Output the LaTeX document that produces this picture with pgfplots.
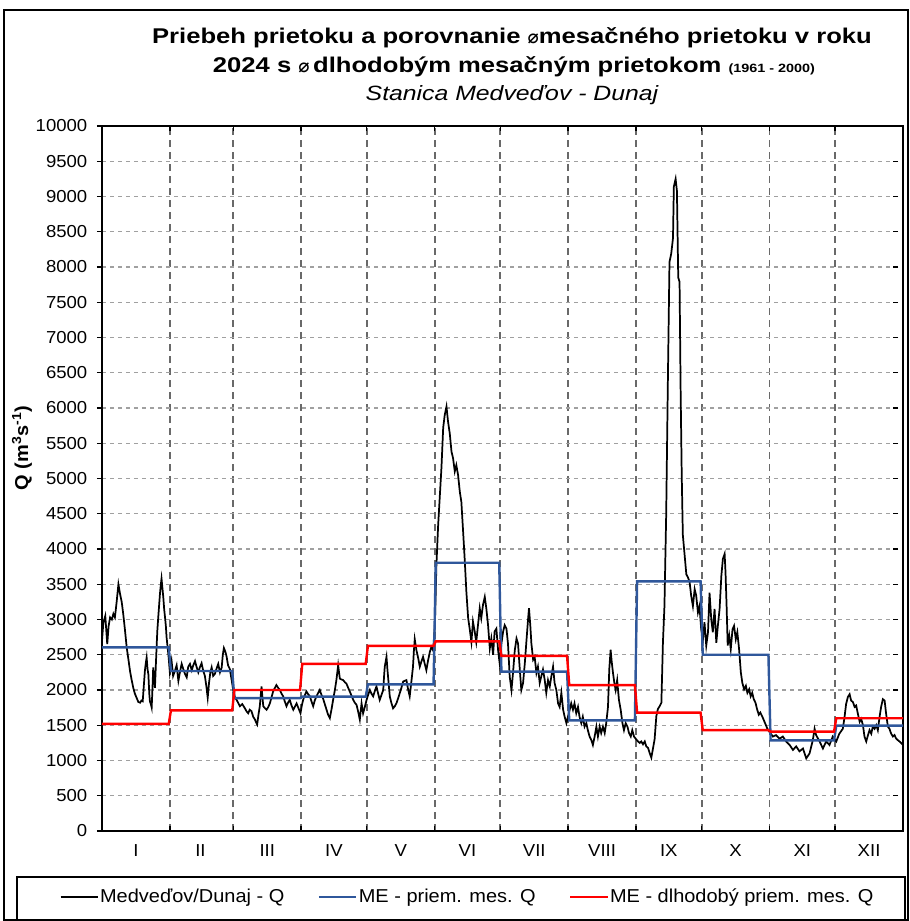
\documentclass[border=0pt]{standalone}
\usepackage{fontspec}
\setmainfont{Liberation Sans}[FakeStretch=1.07]
\newfontfamily\titlefont{Liberation Sans}[FakeStretch=1.2]
\newfontfamily\dejavu{DejaVu Sans}
\usepackage{pgfplots}
\pgfplotsset{compat=1.18}
\definecolor{meblue}{RGB}{47,87,155}
\definecolor{vgrid}{RGB}{105,105,105}
\definecolor{hgrid}{RGB}{160,160,160}

\begin{document}
\begin{tikzpicture}
\begin{axis}[
  scale only axis, width=600.75pt, height=528.75pt,
  xmin=0, xmax=366, ymin=0, ymax=10000,
  xtick={31,60,91,121,152,182,213,244,274,305,335},
  xticklabels={},
  extra x ticks={15.5,45,75.5,106,136.5,167,197.5,228.5,259,289.5,320,350.5},
  extra x tick labels={I,II,III,IV,V,VI,VII,VIII,IX,X,XI,XII},
  extra x tick style={grid=none, major tick length=0pt, xticklabel style={yshift=-7pt}},
  ytick={0,500,...,10000},
  scaled y ticks=false,
  xmajorgrids, ymajorgrids,
  x grid style={vgrid, line width=1.3pt, dash pattern=on 5pt off 4pt},
  y grid style={hgrid, line width=0.8pt, dash pattern=on 3pt off 3pt},
  tick label style={font=\fontsize{13}{15}\selectfont},
  /pgf/number format/fixed,
  /pgf/number format/assume math mode=true,
  /pgf/number format/1000 sep={},
  axis line style={line width=1pt},
  tick style={black, line width=1pt},
  major tick length=3.75pt,
  ytick style={xshift=-3.75pt},
  yticklabel style={xshift=-7.5pt},
  legend style={at={(0.456,-0.0936)}, anchor=center, legend columns=3, draw=none, fill=none,
    font=\fontsize{14}{17}\selectfont,
    nodes={inner sep=1pt},
    /tikz/every even column/.append style={column sep=24pt}},
  legend image code/.code={\draw[#1] (0pt,0pt) -- (28pt,0pt);},
]
\addplot[black, line width=1.3pt] coordinates {
(0,2700)(0.6,2950)(1.5,3050)(2.4,2650)(3,2900)(3.7,3030)(4.5,3000)(5.2,3080)(5.9,3030)(6.7,3250)(7.5,3500)(8.2,3370)(9,3250)(9.7,3080)(10.5,2850)(11.3,2600)(12,2450)(12.8,2270)(13.5,2150)(14.3,2030)(15,1950)(15.8,1890)(16.6,1830)(17.4,1820)(18,1850)(18.6,1840)(19.2,2100)(19.6,2270)(20,2380)(20.4,2460)(20.8,2300)(21.2,2220)(21.6,1950)(21.9,1840)(22.3,1800)(22.7,1750)(23.1,2050)(23.4,2320)(23.8,2150)(24.2,2030)(24.6,2350)(25,2650)(25.3,2850)(25.7,3030)(26.1,3200)(26.5,3370)(26.9,3500)(27.2,3580)(27.6,3450)(28,3320)(28.4,3150)(28.8,3030)(29.2,2900)(29.5,2750)(30,2600)(30.5,2450)(31,2250)
(31.8,2410)(32.5,2200)(33.3,2270)(34.1,2350)(34.9,2130)(35.6,2250)(36.4,2370)(37.1,2300)(37.9,2230)(38.7,2180)(39.4,2330)(40.2,2370)(41,2280)(41.7,2350)(42.5,2410)(43.2,2330)(44,2250)(44.7,2320)(45.5,2380)(46.2,2280)(47,2200)(47.7,2050)(48.3,1890)(48.9,2100)(49.5,2250)(50.1,2320)(50.8,2200)(51.6,2230)(52.3,2300)(53.1,2370)(53.9,2250)(54.7,2320)(55.2,2500)(55.7,2595)(56.3,2550)(56.9,2480)(57.6,2350)(58.4,2300)(59.2,2150)(60,1990)
(60.7,1900)(61.5,1860)(62.2,1820)(63,1770)(64.1,1800)(65.3,1740)(66,1700)(66.8,1670)(67.5,1720)(68.3,1700)(69.1,1620)(69.9,1580)(70.4,1540)(70.9,1510)(71.5,1650)(72.1,1770)(72.9,2050)(73.3,1900)(73.7,1770)(74.5,1740)(75.2,1720)(76,1760)(76.7,1810)(77.5,1900)(78.2,1980)(79,2030)(79.7,2070)(80.5,2030)(81.3,2000)(82,1950)(82.8,1910)(83.5,1840)(84.3,1770)(85,1820)(85.8,1860)(86.6,1780)(87.4,1720)(88.1,1760)(88.9,1810)(89.8,1740)(90.7,1670)
(91.3,1780)(91.9,1860)(92.6,1920)(93.4,1980)(94.2,1940)(95,1910)(95.7,1840)(96.5,1770)(97.2,1850)(98,1910)(98.8,1960)(99.5,2000)(100.3,1930)(101,1880)(101.8,1800)(102.6,1720)(103.3,1650)(104.1,1600)(104.9,1730)(105.6,1860)(106.4,2000)(107.1,2140)(107.9,2350)(108.3,2250)(108.7,2160)(109.4,2150)(110.2,2140)(111,2110)(111.7,2090)(112.5,2030)(113.2,1980)(114,1920)(114.8,1860)(115.5,1820)(116.3,1790)(117,1700)(117.8,1580)(118.2,1700)(118.6,1810)(119.3,1670)(120.1,1760)(120.9,1860)
(121.6,1930)(122.4,2000)(123.1,1950)(123.9,1910)(124.6,1980)(125.4,2050)(126.1,1960)(126.9,1860)(127.7,1930)(128.5,2000)(128.9,2200)(129.2,2330)(130,2470)(130.4,2300)(130.7,2190)(131.1,2050)(131.5,1910)(132.2,1820)(133,1740)(133.8,1770)(134.5,1810)(135.3,1880)(136,1950)(136.8,2030)(137.6,2120)(138.3,2130)(139.1,2140)(139.8,2020)(140.6,1910)(141.3,2100)(142.1,2330)(142.5,2550)(142.9,2720)(143.3,2640)(143.7,2560)(144.5,2450)(145.2,2330)(145.9,2400)(146.7,2470)(147.4,2380)(148.2,2280)(149,2420)(149.8,2540)(150.5,2610)(151.3,2560)
(152.1,2920)(152.8,3770)(153.6,4340)(154.3,4720)(155.1,5150)(155.9,5720)(156.6,5900)(157.4,6020)(158.1,5810)(158.9,5640)(159.7,5380)(160.4,5290)(161.2,5100)(161.9,5190)(162.7,5050)(163.5,4810)(164.2,4670)(165,4250)(165.7,3870)(166.5,3390)(167.3,3020)(168,2870)(168.8,2680)(169.5,2970)(170.3,2830)(171,2680)(171.8,2920)(172.6,3160)(173.3,3020)(174.1,3210)(174.9,3320)(175.6,3160)(176.4,2920)(177.2,2590)(177.9,2730)(178.7,2500)(179.4,2830)(180.2,2870)(181,2560)(181.7,2380)
(182.5,2660)(183.3,2830)(184,2920)(184.8,2870)(185.5,2660)(186.3,2190)(187.1,2000)(187.8,2240)(188.6,2560)(189.4,2730)(190.1,2660)(190.9,2290)(191.6,2000)(192.4,2100)(193.2,2380)(193.9,2680)(194.7,3010)(195.1,3160)(195.7,2920)(196.2,2660)(197,2430)(197.7,2470)(198.5,2240)(199.2,2330)(200,2100)(200.7,2190)(201.5,2290)(202.3,2140)(203,1960)(203.8,2140)(204.6,2050)(205.3,2190)(206.1,2330)(206.8,2100)(207.6,2000)(208.4,1810)(209.1,1760)(209.9,1960)(210.7,1720)(211.4,1620)(212.2,1530)
(212.9,1620)(213.7,1720)(214.4,1810)(215.2,1720)(215.9,1810)(216.7,1670)(217.5,1760)(218.2,1620)(219,1530)(219.7,1620)(220.5,1480)(221.3,1530)(222,1430)(222.8,1340)(223.6,1290)(224.3,1220)(225.1,1340)(225.9,1480)(226.6,1340)(227.4,1480)(228.1,1390)(228.9,1480)(229.7,1390)(230.4,1530)(231.2,1760)(231.8,2300)(232.4,2570)(232.9,2400)(233.5,2240)(234.1,2100)(234.7,2000)(235.4,2140)(236.2,1860)(237,1720)(237.8,1530)(238.5,1430)(239.3,1530)(240.1,1480)(240.8,1390)(241.6,1340)(242.3,1430)(243.1,1340)
(244.1,1300)(244.9,1270)(245.7,1250)(246.4,1270)(247.2,1230)(248,1270)(248.7,1200)(249.5,1180)(250.2,1110)(251,1040)(251.7,1160)(252.5,1300)(253.3,1630)(254,1730)(254.8,1770)(255.6,1820)(256.3,2670)(257,3190)(257.8,4500)(258.6,6470)(259.3,8070)(260.1,8190)(260.9,8410)(261.3,9140)(262.1,9250)(262.7,9080)(263.3,7850)(263.9,7790)(264.4,6220)(264.9,5040)(265.4,4200)(266.2,3920)(267,3640)(267.7,3600)(268.5,3530)(269.2,3340)(270,3190)(270.8,3430)(271.5,3340)(272.3,3100)(273,3190)(273.8,2860)
(274.6,2720)(275.3,2960)(276.1,2630)(276.9,2820)(277.6,3380)(278.4,3000)(279.1,2820)(279.9,3150)(280.7,2670)(281.4,2910)(282.2,3150)(283,3620)(283.7,3860)(284.5,3930)(284.9,3670)(285.4,3190)(285.9,2630)(286.6,2770)(287.3,2580)(288.1,2860)(288.8,2910)(289.6,2720)(290.3,2820)(291.1,2580)(291.9,2250)(292.6,2100)(293.4,2010)(294.2,2060)(294.9,1960)(295.7,2010)(296.4,1910)(297.1,1960)(297.8,1870)(298.6,1820)(299.3,1730)(300.1,1650)(300.8,1680)(301.6,1630)(302.3,1580)(303.1,1520)(303.9,1460)(304.6,1420)(305.4,1390)
(306.5,1340)(308,1360)(309.6,1310)(311.1,1340)(312.6,1270)(314.2,1220)(315.7,1150)(317.2,1200)(318.7,1130)(320.3,1170)(321.8,1030)(323.3,1100)(324.8,1290)(325.6,1450)(326.3,1360)(327.9,1270)(329.4,1170)(330.9,1270)(332.4,1220)(333.9,1340)
(335.5,1270)(336.9,1380)(338.5,1450)(339.3,1620)(340,1800)(340.8,1900)(341.6,1940)(342.3,1850)(343.1,1830)(343.9,1760)(344.6,1780)(345.4,1660)(346.2,1550)(346.9,1590)(347.7,1500)(348.4,1340)(349.2,1270)(350,1360)(350.7,1430)(351.5,1380)(352.2,1480)(353,1450)(353.8,1500)(354.5,1430)(355.3,1620)(356,1760)(356.8,1870)(357.6,1850)(358.3,1660)(359.1,1480)(359.8,1450)(360.6,1380)(361.4,1340)(362.1,1360)(362.9,1310)(363.6,1290)(364.4,1270)(366,1220)
};
\addlegendentry{Medveďov/Dunaj - Q}
\addplot[meblue, line width=1.8pt] coordinates {
(0,2605)(30.5,2605)(31.5,2270)(59.5,2270)(60.5,1885)(90.5,1885)(91.5,1905)(120.5,1905)(121.5,2080)(151.5,2080)(152.5,3805)(181.5,3805)(182.5,2260)(212.5,2260)(213.5,1570)(243.5,1570)(244.5,3540)(273.5,3540)(274.5,2500)(304.5,2500)(305.5,1285)(334.5,1285)(335.5,1495)(366,1495)
};
\addlegendentry{ME - priem. mes. Q}
\addplot[red, line width=1.8pt] coordinates {
(0,1520)(30.5,1520)(31.5,1710)(59.5,1710)(60.5,2000)(90.5,2000)(91.5,2370)(120.5,2370)(121.5,2625)(151.5,2625)(152.5,2690)(181.5,2690)(182.5,2485)(212.5,2485)(213.5,2070)(243.5,2070)(244.5,1680)(273.5,1680)(274.5,1430)(304.5,1430)(305.5,1410)(334.5,1410)(335.5,1600)(366,1600)
};
\addlegendentry{ME - dlhodobý priem. mes. Q}
\end{axis}
\begin{scope}[shift={(-76.5pt,623.25pt)}, x=0.75pt, y=-0.75pt]
  \draw[line width=1.2pt] (4,10) rectangle (908,920);
  \draw[line width=1pt] (17,877) rectangle (905,920);
  \node[font=\titlefont\fontsize{16}{19}\selectfont\bfseries] at (512,38) {Priebeh prietoku a porovnanie {\dejavu\fontsize{14}{14}\selectfont ⌀}mesačného prietoku v roku};
  \node[font=\titlefont\fontsize{16}{19}\selectfont\bfseries] at (514,67) {2024 s {\dejavu\fontsize{14}{14}\selectfont ⌀}\,dlhodobým mesačným prietokom {\fontsize{9}{11}\selectfont (1961 - 2000)}};
  \node[font=\titlefont\fontsize{15.5}{18}\selectfont\itshape] at (512,95) {Stanica Medveďov - Dunaj};
  \node[rotate=90, font=\fontsize{14}{16}\selectfont\bfseries] at (22,448) {Q (m\textsuperscript{3}s\textsuperscript{-1})};
  \pgfresetboundingbox
  \path[use as bounding box] (0,0) rectangle (910,921);
\end{scope}
\end{tikzpicture}
\end{document}
